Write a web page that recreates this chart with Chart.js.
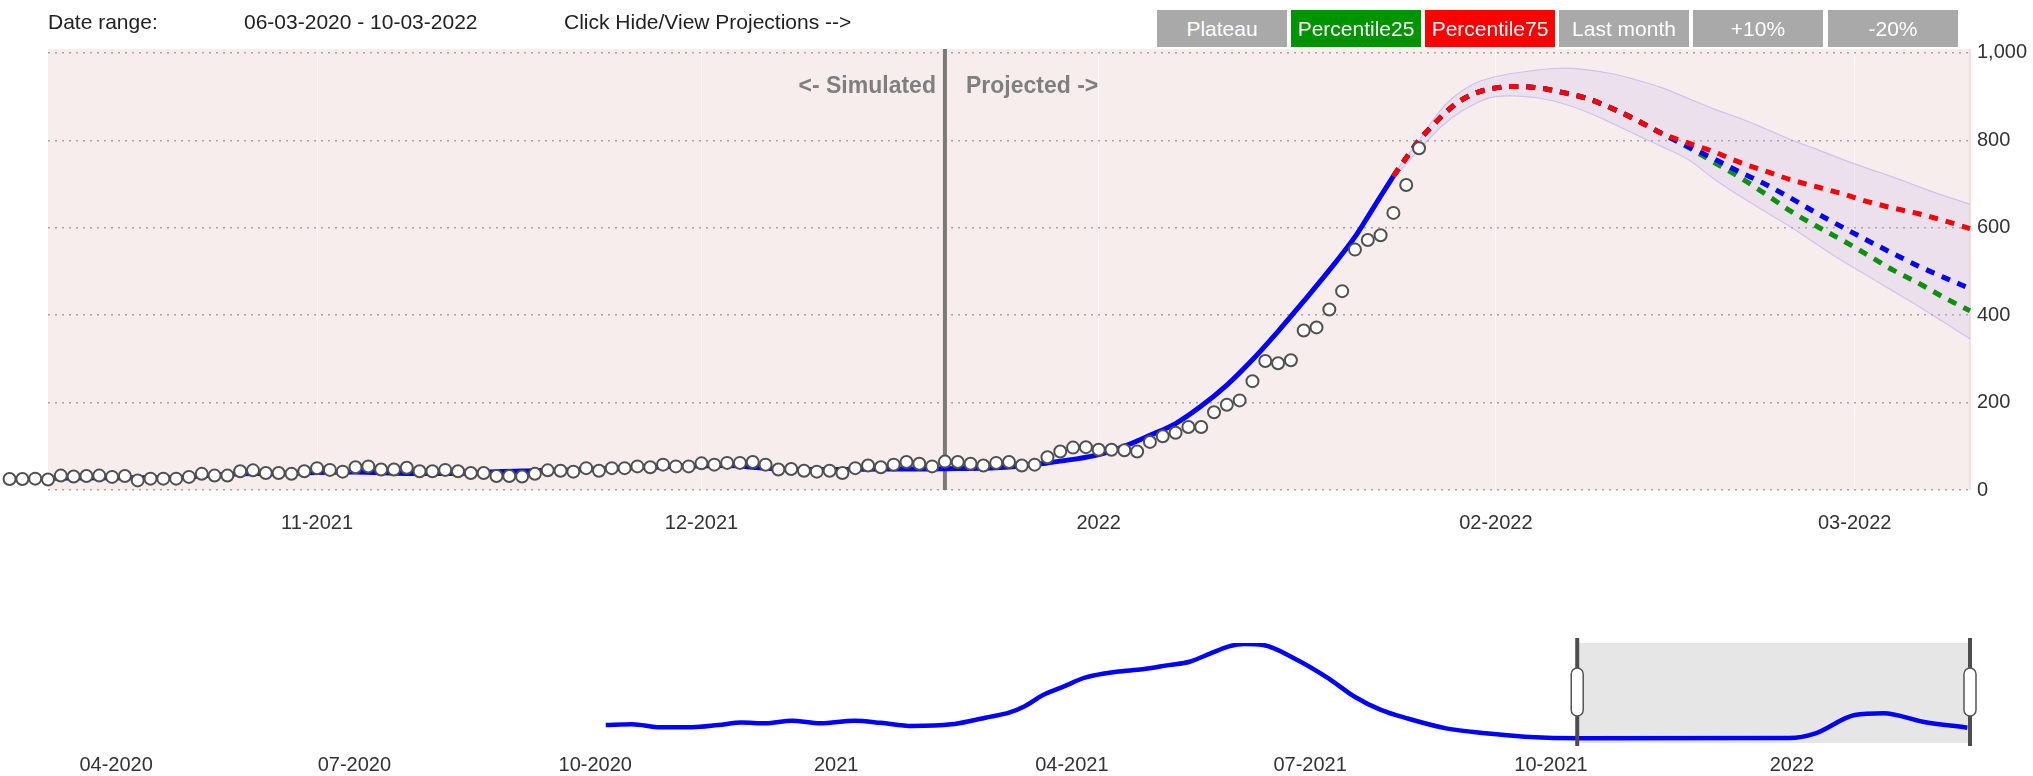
<!DOCTYPE html>
<html>
<head>
<meta charset="utf-8">
<script src="https://cdn.jsdelivr.net/npm/chart.js@4.4.1/dist/chart.umd.min.js"></script>
<style>
  html, body { margin: 0; padding: 0; background: #fff; }
  body { width: 2033px; height: 776px; position: relative; overflow: hidden;
         font-family: 'Liberation Sans', Arial, sans-serif; color: #222; }
  .hdr { position: absolute; top: 10px; height: 24px; line-height: 24px; font-size: 21px; white-space: nowrap; }
  .btn { position: absolute; top: 10px; width: 130px; height: 37px; line-height: 37px; text-align: center;
         color: #fff; font-size: 21px; background: #a9a9a9; }
  #main { position: absolute; left: 0; top: 0; }
  #nav { position: absolute; left: 0; top: 600px; }
</style>
</head>
<body>
<canvas id="main" width="2033" height="560"></canvas>
<canvas id="nav" width="2033" height="176"></canvas>

<div class="hdr" style="left:48px">Date range:</div>
<div class="hdr" style="left:244px">06-03-2020 - 10-03-2022</div>
<div class="hdr" style="left:564px">Click Hide/View Projections --&gt;</div>

<div class="btn" style="left:1157px">Plateau</div>
<div class="btn" style="left:1291px;background:#009300">Percentile25</div>
<div class="btn" style="left:1425px;background:#ff0000">Percentile75</div>
<div class="btn" style="left:1559px">Last month</div>
<div class="btn" style="left:1693px">+10%</div>
<div class="btn" style="left:1828px">-20%</div>

<script>
// ---- Data ----
// observed daily values, first value on obsStart
const obsStart = '2021-10-08';
const observed = [
  25, 25, 26,
  24, 33, 31, 32, 33, 30, 32, 22, 26, 26,
  26, 30, 37, 33, 33, 43, 45, 39, 39, 37,
  43, 50, 46, 42, 52, 54, 47, 47, 51, 43,
  43, 46, 43, 39, 39, 32, 32, 31, 37, 45,
  44, 42, 50, 44, 50, 50, 54, 52, 58, 54,
  54, 61, 58, 62, 62, 64, 58, 47, 48, 44,
  42, 44, 39, 50, 56, 52, 58, 64, 60, 54,
  65, 64, 60, 56, 62, 64, 56, 58, 75, 88,
  97, 98, 92, 92, 91, 88, 110, 123, 131, 144,
  144, 178, 195, 205, 249, 295, 290, 297, 365, 372,
  413, 455, 550, 572, 583, 634, 698, 782
];

// simulated (fitted) curve
const modelDates = [
  '2021-10-11', '2021-10-15', '2021-10-19', '2021-10-22', '2021-10-25', '2021-10-29',
  '2021-11-01', '2021-11-04', '2021-11-08', '2021-11-12', '2021-11-15', '2021-11-18',
  '2021-11-21', '2021-11-24', '2021-11-27', '2021-11-30', '2021-12-03', '2021-12-06',
  '2021-12-09', '2021-12-12', '2021-12-15', '2021-12-18', '2021-12-21', '2021-12-24',
  '2021-12-26', '2021-12-28', '2021-12-30', '2022-01-01', '2022-01-03', '2022-01-05',
  '2022-01-07', '2022-01-09', '2022-01-11', '2022-01-13', '2022-01-15', '2022-01-17',
  '2022-01-19', '2022-01-21', '2022-01-22', '2022-01-23', '2022-01-24'
];
const modelValues = [
  27, 28, 28, 30, 36, 38,
  40, 41, 38, 38, 42, 44,
  46, 49, 52, 55, 56, 50,
  47, 47, 48, 48, 49, 51,
  55, 62, 70, 81, 100, 125,
  152, 192, 240, 298, 363, 432,
  503, 579, 625, 672, 718
];

// projections
const projDates = [
  '2022-01-24', '2022-01-25', '2022-01-26', '2022-01-27', '2022-01-28', '2022-01-29',
  '2022-01-30', '2022-01-31', '2022-02-01', '2022-02-02', '2022-02-03', '2022-02-04',
  '2022-02-05', '2022-02-06', '2022-02-08', '2022-02-10', '2022-02-12', '2022-02-14',
  '2022-02-16', '2022-02-18', '2022-02-20', '2022-02-22', '2022-02-24', '2022-02-26',
  '2022-02-28', '2022-03-02', '2022-03-04', '2022-03-06', '2022-03-08', '2022-03-10'
];
const percentile75 = [
  718, 760, 800, 832, 862, 886, 903, 914, 920, 923, 923, 921,
  917, 911, 897, 874, 846, 815, 794, 774, 750, 730, 710, 694,
  678, 660, 645, 632, 616, 598
];
const projected = [
  718, 760, 800, 832, 862, 886, 903, 914, 920, 923, 923, 921,
  917, 911, 897, 874, 846, 815, 786, 758, 728, 700, 668, 634,
  602, 571, 541, 512, 486, 461
];
const percentile25 = [
  718, 760, 800, 832, 862, 886, 903, 914, 920, 923, 923, 921,
  917, 911, 897, 874, 846, 815, 784, 750, 716, 678, 638, 604,
  572, 538, 503, 473, 440, 410
];

// uncertainty band
const bandDates = [
  '2022-01-24', '2022-01-26', '2022-01-28', '2022-01-30', '2022-02-01', '2022-02-04',
  '2022-02-06', '2022-02-08', '2022-02-10', '2022-02-12', '2022-02-14', '2022-02-16',
  '2022-02-18', '2022-02-20', '2022-02-22', '2022-02-24', '2022-02-26', '2022-02-28',
  '2022-03-02', '2022-03-04', '2022-03-06', '2022-03-08', '2022-03-10'
];
const bandUpper = [722, 800, 880, 925, 946, 960, 965, 962, 953, 938, 920, 896,
                   872, 851, 827, 802, 780, 757, 736, 716, 694, 673, 654];
const bandLower = [714, 778, 838, 878, 900, 898, 886, 866, 840, 812, 785, 756,
                   712, 673, 637, 602, 563, 525, 490, 455, 420, 383, 346];

const splitDate = '2021-12-20';
const viewStart = '2021-10-11';
const viewEnd = '2022-03-10';
const mainTicks = ['2021-11-01', '2021-12-01', '2022-01-01', '2022-02-01', '2022-03-01'];
const yTicks = [0, 200, 400, 600, 800, 1000];

// navigator series
const navDates = [
  '2020-10-05', '2020-10-15', '2020-10-26', '2020-11-07', '2020-11-17', '2020-11-26',
  '2020-12-05', '2020-12-15', '2020-12-26', '2021-01-08', '2021-01-18', '2021-01-30',
  '2021-02-14', '2021-02-23', '2021-03-01', '2021-03-08', '2021-03-14', '2021-03-21',
  '2021-03-29', '2021-04-06', '2021-04-18', '2021-04-28', '2021-05-08', '2021-05-16',
  '2021-05-24', '2021-05-31', '2021-06-06', '2021-06-13', '2021-06-25', '2021-07-08',
  '2021-07-18', '2021-07-28', '2021-08-07', '2021-08-22', '2021-09-06', '2021-09-21',
  '2021-10-12', '2021-12-31', '2022-01-10', '2022-01-25', '2022-02-05', '2022-02-20',
  '2022-03-09'
];
const navValues = [
  570, 600, 490, 490, 570, 660,
  630, 720, 630, 720, 650, 535,
  595, 750, 870, 1010, 1240, 1640,
  1950, 2260, 2470, 2560, 2710, 2830,
  3130, 3380, 3460, 3430, 2950, 2240,
  1580, 1110, 810, 450, 275, 155,
  96, 107, 274, 928, 988, 689,
  475
];
const navStart = '2020-03-06';
const navEnd = '2022-03-10';
const navTicks = ['2020-04-01', '2020-07-01', '2020-10-01', '2021-01-01',
                  '2021-04-01', '2021-07-01', '2021-10-01', '2022-01-01'];

// ---- Helpers ----
const dayNum = (s) => {
  const [y, m, d] = s.split('-').map(Number);
  return Date.UTC(y, m - 1, d) / 86400000;
};
const fmtMonth = (v) => {
  const dt = new Date(v * 86400000);
  const m = dt.getUTCMonth() + 1;
  const y = dt.getUTCFullYear();
  return m === 1 ? String(y) : String(m).padStart(2, '0') + '-' + y;
};
const pts = (dates, values) => dates.map((d, i) => ({ x: dayNum(d), y: values[i] }));
const obsPts = observed.map((v, i) => ({ x: dayNum(obsStart) + i, y: v }));

Chart.defaults.font.family = "'Liberation Sans', Arial, sans-serif";
Chart.defaults.font.size = 20;
Chart.defaults.color = '#333';

// ---- Main chart ----
const mainDecor = {
  id: 'mainDecor',
  beforeDraw(chart) {
    const { ctx, chartArea: a } = chart;
    ctx.save();
    ctx.fillStyle = '#f7eded';
    ctx.fillRect(a.left, a.top, a.right - a.left, a.bottom - a.top);
    ctx.strokeStyle = '#f1d6d6';
    ctx.lineWidth = 1.5;
    ctx.beginPath();
    ctx.moveTo(a.right, a.top);
    ctx.lineTo(a.right, a.bottom);
    ctx.stroke();
    ctx.restore();
  },
  beforeDatasetsDraw(chart) {
    const { ctx, chartArea: a } = chart;
    const x = chart.scales.x.getPixelForValue(dayNum(splitDate));
    ctx.save();
    ctx.strokeStyle = '#7a7a7a';
    ctx.lineWidth = 4;
    ctx.beginPath();
    ctx.moveTo(x, a.top);
    ctx.lineTo(x, a.bottom);
    ctx.stroke();
    ctx.fillStyle = '#7f7f7f';
    ctx.font = "bold 23px 'Liberation Sans', Arial, sans-serif";
    ctx.textBaseline = 'middle';
    ctx.textAlign = 'right';
    ctx.fillText('<- Simulated', x - 9, a.top + 38);
    ctx.textAlign = 'left';
    ctx.fillText('Projected ->', x + 21, a.top + 38);
    ctx.restore();
  },
  afterDatasetsDraw(chart) {
    // observed markers left of the plot area are skipped by Chart.js; draw them anyway
    const meta = chart.getDatasetMeta(0);
    const full = { left: 0, top: 0, right: chart.width, bottom: chart.height };
    meta.data.forEach(el => {
      if (el.x < chart.chartArea.left - 1) el.draw(chart.ctx, full);
    });
  }
};

const dashed = (data, color, order) => ({
  data, borderColor: color, borderWidth: 5, borderDash: [9, 8], borderCapStyle: 'butt',
  pointRadius: 0, cubicInterpolationMode: 'monotone', order
});

new Chart(document.getElementById('main'), {
  type: 'line',
  data: {
    datasets: [
      { label: 'Observed', data: obsPts, showLine: false, pointRadius: 6,
        pointBackgroundColor: '#ffffff', pointBorderColor: '#505050', pointBorderWidth: 2,
        clip: false, order: 0 },
      Object.assign({ label: 'Percentile75' }, dashed(pts(projDates, percentile75), '#ff0000', 1)),
      Object.assign({ label: 'Projected' }, dashed(pts(projDates, projected), '#0000ff', 2)),
      Object.assign({ label: 'Percentile25' }, dashed(pts(projDates, percentile25), '#0b920b', 3)),
      { label: 'Simulated', data: pts(modelDates, modelValues), borderColor: '#0000ff', borderWidth: 5,
        pointRadius: 0, cubicInterpolationMode: 'monotone', order: 4 },
      { label: 'Band upper', data: pts(bandDates, bandUpper), borderColor: 'rgba(165,150,235,0.45)',
        borderWidth: 1.2, pointRadius: 0, tension: 0.4, fill: '+1',
        backgroundColor: 'rgba(195,175,240,0.2)', order: 5 },
      { label: 'Band lower', data: pts(bandDates, bandLower), borderColor: 'rgba(165,150,235,0.45)',
        borderWidth: 1.2, pointRadius: 0, tension: 0.4, order: 6 }
    ]
  },
  options: {
    responsive: false,
    animation: false,
    devicePixelRatio: 1,
    layout: { padding: { top: 49, left: 48, right: 0, bottom: 0 } },
    plugins: { legend: { display: false }, tooltip: { enabled: false } },
    scales: {
      x: {
        type: 'linear',
        bounds: 'data',
        afterDataLimits: (s) => { s.min = dayNum(viewStart); s.max = dayNum(viewEnd); },
        afterBuildTicks: (s) => { s.ticks = mainTicks.map(d => ({ value: dayNum(d) })); },
        afterFit: (s) => { s.height = 70; },
        grid: { color: 'rgba(255,255,255,0.65)', lineWidth: 1, drawTicks: false },
        border: { display: false },
        ticks: { padding: 21, maxRotation: 0, autoSkip: false, callback: (v) => fmtMonth(v) }
      },
      y: {
        position: 'right',
        min: 0,
        max: 1009,
        afterBuildTicks: (s) => { s.ticks = yTicks.map(v => ({ value: v })); },
        afterFit: (s) => { s.width = 63; },
        grid: { color: '#aaa4a4', lineWidth: 1.5, drawTicks: false },
        border: { display: false, dash: [2, 5] },
        ticks: { padding: 7, callback: (v) => v.toLocaleString('en-US') }
      }
    }
  },
  plugins: [mainDecor]
});

// ---- Navigator ----
const roundRect = (ctx, x, y, w, h, r) => {
  ctx.beginPath();
  ctx.moveTo(x + r, y);
  ctx.lineTo(x + w - r, y);
  ctx.arc(x + w - r, y + r, r, -Math.PI / 2, 0);
  ctx.lineTo(x + w, y + h - r);
  ctx.arc(x + w - r, y + h - r, r, 0, Math.PI / 2);
  ctx.lineTo(x + r, y + h);
  ctx.arc(x + r, y + h - r, r, Math.PI / 2, Math.PI);
  ctx.lineTo(x, y + r);
  ctx.arc(x + r, y + r, r, Math.PI, Math.PI * 1.5);
  ctx.closePath();
};

const navDecor = {
  id: 'navDecor',
  beforeDatasetsDraw(chart) {
    const { ctx, chartArea: a } = chart;
    const x0 = chart.scales.x.getPixelForValue(dayNum(viewStart));
    const x1 = chart.scales.x.getPixelForValue(dayNum(viewEnd));
    ctx.save();
    ctx.fillStyle = '#e6e6e6';
    ctx.fillRect(x0, a.top, x1 - x0, a.bottom - a.top + 2);
    ctx.restore();
  },
  afterDatasetsDraw(chart) {
    const { ctx, chartArea: a } = chart;
    [viewStart, viewEnd].forEach(d => {
      const x = chart.scales.x.getPixelForValue(dayNum(d));
      ctx.save();
      ctx.strokeStyle = '#4d4d4d';
      ctx.lineWidth = 4;
      ctx.beginPath();
      ctx.moveTo(x, a.top - 5);
      ctx.lineTo(x, a.bottom + 5);
      ctx.stroke();
      const mid = (a.top + a.bottom) / 2;
      roundRect(ctx, x - 6, mid - 24, 12, 48, 6);
      ctx.fillStyle = '#ffffff';
      ctx.fill();
      ctx.strokeStyle = '#555555';
      ctx.lineWidth = 1.5;
      ctx.stroke();
      ctx.restore();
    });
  }
};

new Chart(document.getElementById('nav'), {
  type: 'line',
  data: {
    datasets: [
      { label: 'Navigator', data: pts(navDates, navValues), borderColor: '#0000ff', borderWidth: 4.5,
        pointRadius: 0, cubicInterpolationMode: 'monotone' }
    ]
  },
  options: {
    responsive: false,
    animation: false,
    devicePixelRatio: 1,
    layout: { padding: { top: 43, left: 48, right: 63, bottom: 0 } },
    plugins: { legend: { display: false }, tooltip: { enabled: false } },
    scales: {
      x: {
        type: 'linear',
        bounds: 'data',
        min: dayNum(navStart),
        max: dayNum(navEnd),
        afterBuildTicks: (s) => { s.ticks = navTicks.map(d => ({ value: dayNum(d) })); },
        afterFit: (s) => { s.height = 35; },
        grid: { display: false },
        border: { display: false },
        ticks: { padding: 4, maxRotation: 0, autoSkip: false, callback: (v) => fmtMonth(v) }
      },
      y: { display: false, min: 0, max: 3500 }
    }
  },
  plugins: [navDecor]
});
</script>
</body>
</html>
